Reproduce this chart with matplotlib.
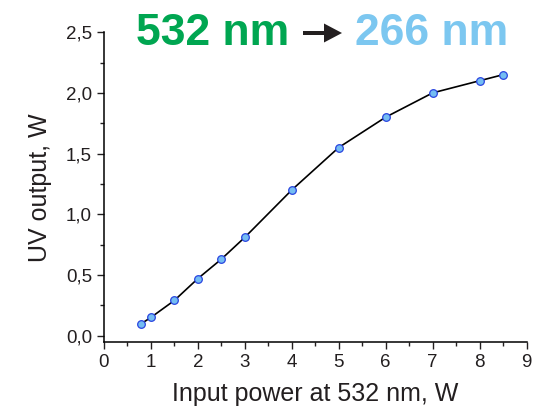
import matplotlib
matplotlib.use('Agg')
import matplotlib.pyplot as plt
from matplotlib.patches import FancyArrow
from matplotlib.transforms import IdentityTransform
from matplotlib.ticker import MultipleLocator, FuncFormatter

plt.rcParams.update({
    'font.family': ['Liberation Sans', 'DejaVu Sans'],
    'font.size': 13.5,
    'text.color': '#231f20',
    'axes.labelcolor': '#231f20',
    'xtick.color': '#231f20',
    'ytick.color': '#231f20',
})

# measured UV output vs input power
input_power = [0.8, 1.0, 1.5, 2.0, 2.5, 3.0, 4.0, 5.0, 6.0, 7.0, 8.0, 8.5]
uv_output = [0.10, 0.15, 0.29, 0.47, 0.63, 0.81, 1.20, 1.55, 1.80, 2.00, 2.10, 2.15]

x_ticks = list(range(0, 10))
y_ticks = [0.0, 0.5, 1.0, 1.5, 2.0, 2.5]

fig = plt.figure(figsize=(5.44, 4.18), dpi=100)
ax = fig.add_axes([0.191, 0.181, 0.777, 0.742])

ax.plot(input_power, uv_output, color='black', lw=1.2, zorder=2)
ax.plot(input_power, uv_output, ls='none', marker='o', ms=5.5,
        mfc='#74bdf2', mec='#2a45e0', mew=0.9, zorder=3)

ax.set_xlim(0, 9)
ax.set_ylim(-0.055, 2.5)
ax.set_xticks(x_ticks)
ax.set_yticks(y_ticks)
ax.xaxis.set_minor_locator(MultipleLocator(0.5))
ax.yaxis.set_minor_locator(MultipleLocator(0.25))
ax.yaxis.set_major_formatter(FuncFormatter(lambda v, p: f"{v:.1f}".replace('.', ',')))
ax.tick_params(which='major', direction='out', length=5, width=1)
ax.tick_params(which='minor', direction='out', length=3, width=1)
for side in ['top', 'right']:
    ax.spines[side].set_visible(False)
for side in ['left', 'bottom']:
    ax.spines[side].set_linewidth(1.1)

ax.set_xlabel("Input power at 532 nm, W", fontsize=18, labelpad=8)
ax.set_ylabel("UV output, W", fontsize=18, labelpad=10)

# title: 532 nm -> 266 nm
fig.text(0.250, 0.893, "532 nm", fontsize=32, fontweight='bold',
         color='#00a651', ha='left', va='baseline')
fig.text(0.652, 0.893, "266 nm", fontsize=32, fontweight='bold',
         color='#7cc7f0', ha='left', va='baseline')
# arrow drawn in figure pixels
fig.add_artist(FancyArrow(303, 385, 39, 0, width=4, head_width=19,
                          head_length=18, length_includes_head=True,
                          color='#231f20', lw=0, transform=IdentityTransform()))

fig.savefig('out.png', dpi=100)
